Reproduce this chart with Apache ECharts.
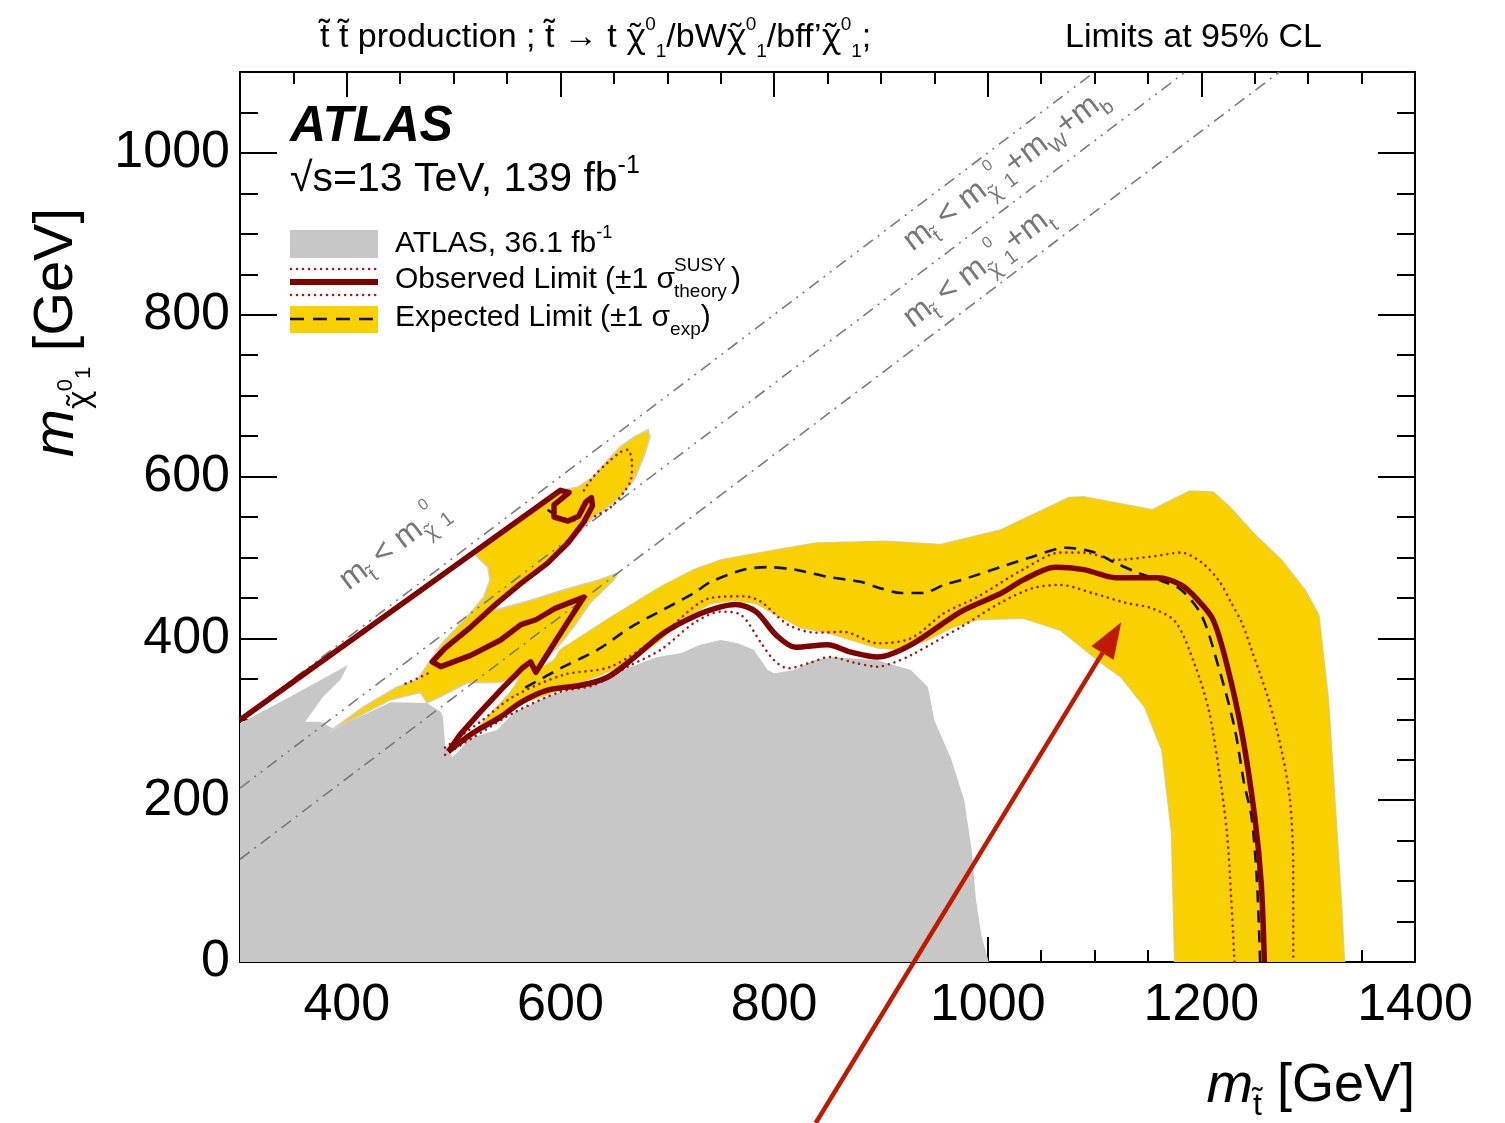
<!DOCTYPE html>
<html><head><meta charset="utf-8">
<script src="https://cdn.jsdelivr.net/npm/echarts@6/dist/echarts.min.js"></script>
<style>html,body{margin:0;padding:0;background:#fff;}#c{width:1505px;height:1123px;}</style>
</head><body><div id="c"></div>
<script>
// ---------------- data (GeV) ----------------
const xMajorTicks = [400, 600, 800, 1000, 1200, 1400];
const xMinorTicks = [350, 450, 500, 550, 650, 700, 750, 850, 900, 950, 1050, 1100, 1150, 1250, 1300, 1350];
const yMajorTicks = [0, 200, 400, 600, 800, 1000];
const yMinorTicks = [50, 100, 150, 250, 300, 350, 450, 500, 550, 650, 700, 750, 850, 900, 950, 1050];

// ATLAS 36.1 fb-1 excluded region (grey)
const excl36fb = [[300,0],[300,295],[350,330],[401,367],[394,349],[378,328],[361,297],[375,297],[387,289],[410,302],[441,321],[475,320],[488,309],[490,303],[492,268],[499,253],[516,277],[541,287],[556,308],[588,328],[628,345],[666,365],[691,377],[713,382],[731,392],[750,398],[766,394],[781,386],[794,361],[800,357],[819,361],[837,373],[856,377],[897,373],[928,361],[944,340],[950,299],[966,250],[978,200],[985,138],[989,77],[994,33],[1001,0]];

// expected +-1 sigma band (yellow) : main band and upper-left lobe
const expBandMain = [[502,265],[525,293],[553,333],[572,371],[579,380],[581,363],[594,373],[600,386],[647,426],[694,464],[725,485],[750,497],[788,506],[839,518],[904,520],[956,516],[1012,534],[1076,574],[1090,575],[1154,559],[1189,582],[1211,581],[1227,562],[1249,530],[1275,497],[1297,460],[1310,429],[1319,324],[1325,200],[1331,77],[1334,0],[1175,0],[1172,160],[1163,262],[1147,315],[1125,352],[1106,370],[1068,410],[1033,425],[990,423],[966,413],[944,398],[919,386],[897,388],[872,398],[850,407],[825,413],[802,429],[783,443],[762,447],[741,443],[713,423],[694,398],[666,371],[638,355],[600,336],[563,319],[534,297],[511,272]];
const expBandUpper = [[518,506],[563,546],[600,583],[616,587],[631,600],[644,620],[656,637],[669,649],[682,658],[684,649],[678,624],[669,596],[656,575],[644,562],[631,550],[622,538],[607,513],[588,493],[563,468],[547,451],[539,435],[572,447],[603,460],[635,472],[654,481],[650,472],[628,444],[614,417],[603,398],[591,380],[581,363],[575,363],[558,349],[539,345],[525,345],[513,345],[488,328],[475,320],[469,333],[441,324],[410,303],[383,284],[415,315],[447,340],[466,349],[488,392],[518,435],[528,451],[534,472],[532,488]];

// expected limit (dashed)
const expLine = [[567,339],[603,365],[635,386],[666,414],[697,436],[725,456],[741,470],[772,485],[794,488],[819,485],[850,476],[881,470],[897,463],[919,456],[939,456],[959,466],[975,472],[1012,488],[1042,501],[1073,512],[1098,507],[1120,493],[1141,481],[1163,471],[1181,460],[1200,429],[1216,365],[1231,290],[1240,221],[1247,179],[1252,101],[1255,0]];
const expLinePiece = [[588,559],[600,549],[614,546]];

// observed limit (solid)
const obsLeft = [[300,299],[600,583],[608,580],[594,565],[594,550],[607,545],[617,551],[624,569],[629,574],[630,564],[622,544],[607,518],[588,493],[563,468],[541,444],[516,414],[492,388],[480,371],[488,365],[516,379],[544,398],[563,417],[577,423],[595,437],[622,451],[611,429],[598,402],[586,377],[577,358],[572,371],[564,363],[544,336],[525,309],[506,281],[495,260]];
const obsMain = [[495,260],[518,283],[544,303],[563,321],[588,336],[619,342],[644,352],[666,373],[697,407],[728,429],[750,439],[764,442],[783,433],[802,404],[820,389],[850,392],[872,383],[897,377],[928,392],[975,433],[1013,456],[1033,472],[1063,488],[1090,485],[1120,475],[1159,475],[1181,466],[1197,447],[1211,423],[1224,367],[1238,283],[1250,179],[1256,98],[1259,0]];
// observed +-1 sigma theory (dotted)
const obsUp = [[492,265],[525,297],[556,328],[603,355],[647,365],[694,404],[741,450],[772,452],[788,445],[813,417],[839,407],[865,408],[897,394],[928,400],[959,431],[990,451],[1033,485],[1068,506],[1090,506],[1120,497],[1153,501],[1181,506],[1200,494],[1216,472],[1228,444],[1238,419],[1247,386],[1263,324],[1275,262],[1283,200],[1286,117],[1286,0]];
const obsDown = [[492,256],[525,283],[556,308],[600,334],[631,342],[663,365],[694,386],[725,419],[750,433],[769,429],[788,394],[800,373],[813,363],[834,370],[852,377],[875,370],[897,365],[912,370],[928,379],[959,402],[975,414],[1012,444],[1042,462],[1068,466],[1098,456],[1129,444],[1154,437],[1176,420],[1194,367],[1207,311],[1216,241],[1224,159],[1228,77],[1231,0]];
const obsUpLobe = [[622,583],[631,600],[644,617],[656,630],[663,633],[667,617],[666,596],[659,580],[647,562],[631,550]];
const obsDotPiece = [[455,344],[467,351],[478,358]];

// kinematic boundaries
const kinChi = [[300,300],[1100,1100]];
const kinWb = [[300,215],[1185,1100]];
const kinTop = [[300,127],[1273,1100]];

// annotation anchors (GeV)
const lblChiPos = [444, 515];
const lblWbPos = [1017, 979];
const lblTopPos = [991, 858];
const arrowTip = [1125, 420];
const arrowTail = [839, -199];

// ---------------- chart ----------------
const FF = "'Liberation Sans', Arial, Helvetica, sans-serif";
const GF = "'Noto Sans', 'DejaVu Sans', sans-serif";
const YEL = '#f9d000', GRY = '#c7c7c7', OBS = '#800000', DOT = '#9b1c1c';
const chart = echarts.init(document.getElementById('c'), null, {renderer: 'canvas'});

function polySeries(pts, fill, stroke, z) {
  return {
    type: 'custom', xAxisIndex: 0, yAxisIndex: 0, silent: true, z: z, clip: true,
    data: [[pts[0][0], pts[0][1]]],
    renderItem: function (params, api) {
      return {type: 'polygon', shape: {points: pts.map(p => api.coord(p))},
        style: {fill: fill, stroke: stroke, lineWidth: stroke ? 1.5 : 0}};
    }
  };
}
function lineSeries(pts, color, width, dash, smooth, z, cap) {
  return {type: 'line', xAxisIndex: 0, yAxisIndex: 0, data: pts, showSymbol: false, symbol: 'none',
    smooth: smooth, z: z, silent: true, animation: false,
    lineStyle: {color: color, width: width, type: dash, cap: cap || 'butt', join: 'round'}};
}
const dotted = [0.01, 6];
const dashDot = [12, 6, 2, 6];

function axisX(pos, ticks, len, showLine, showLabel) {
  return {type: 'value', position: pos, min: 300, max: 1400,
    axisLine: {show: showLine, onZero: false, lineStyle: {color: '#000', width: 2}},
    axisTick: {show: true, inside: true, length: len, customValues: ticks, lineStyle: {color: '#000', width: 2}},
    axisLabel: {show: showLabel, customValues: ticks, fontSize: 52, color: '#000', fontFamily: FF, margin: 18,
      formatter: v => String(v)},
    splitLine: {show: false}};
}
function axisY(pos, ticks, len, showLine, showLabel) {
  return {type: 'value', position: pos, min: 0, max: 1100,
    axisLine: {show: showLine, onZero: false, lineStyle: {color: '#000', width: 2}},
    axisTick: {show: true, inside: true, length: len, customValues: ticks, lineStyle: {color: '#000', width: 2}},
    axisLabel: {show: showLabel, customValues: ticks, fontSize: 52, color: '#000', fontFamily: FF, margin: 10,
      formatter: v => String(v)},
    splitLine: {show: false}};
}

chart.setOption({
  animation: false,
  backgroundColor: '#fff',
  grid: {left: 240, right: 90, top: 72, bottom: 161, containLabel: false},
  xAxis: [axisX('bottom', xMajorTicks, 25, true, true), axisX('bottom', xMinorTicks, 12, false, false),
          axisX('top', xMajorTicks, 25, true, false), axisX('top', xMinorTicks, 12, false, false)],
  yAxis: [axisY('left', yMajorTicks, 37, true, true), axisY('left', yMinorTicks, 18, false, false),
          axisY('right', yMajorTicks, 37, true, false), axisY('right', yMinorTicks, 18, false, false)],
  series: [
    polySeries(excl36fb, GRY, null, 1),
    polySeries(expBandMain, YEL, '#cfcfcf', 2),
    polySeries(expBandUpper, YEL, '#cfcfcf', 2),
    polySeries(expBandMain, YEL, null, 3),
    lineSeries(kinChi, '#7a7a7a', 1.6, [12, 6, 2, 6, 2, 6], false, 4),
    lineSeries(kinWb, '#7a7a7a', 1.6, [12, 6, 2, 6, 2, 6], false, 4),
    lineSeries(kinTop, '#7a7a7a', 1.6, dashDot, false, 4),
    lineSeries(obsUp, DOT, 2.6, dotted, 0.3, 5, 'round'),
    lineSeries(obsDown, DOT, 2.6, dotted, 0.3, 5, 'round'),
    lineSeries(obsUpLobe, DOT, 2.6, dotted, 0.3, 5, 'round'),
    lineSeries(obsDotPiece, DOT, 2.6, dotted, 0.3, 5, 'round'),
    lineSeries(expLine, '#111', 2.6, [12, 8], 0.3, 6),
    lineSeries(expLinePiece, '#111', 2.4, [8, 6], 0.3, 6),
    lineSeries(obsLeft, OBS, 5.5, 'solid', false, 7),
    lineSeries(obsMain, OBS, 5.5, 'solid', 0.3, 7)
  ]
});

// ---------------- texts / annotations ----------------
const toPx = p => chart.convertToPixel({xAxisIndex: 0, yAxisIndex: 0}, p);
const ang = Math.atan((0.8091) / (1.0682));

function txt(x, y, text, size, opts) {
  opts = opts || {};
  return {type: 'text', x: x, y: y, rotation: opts.rotation || 0, z: 100,
    style: {text: text, fill: opts.fill || '#000', fontSize: size, fontFamily: opts.family || FF,
      fontStyle: opts.fontStyle || 'normal', fontWeight: opts.fontWeight || 'normal',
      align: opts.align || 'left', textAlign: opts.align || 'left',
      verticalAlign: 'middle', textVerticalAlign: 'middle', lineHeight: opts.lineHeight || Math.round(size * 1.35),
      rich: opts.rich || {}}};
}

const chiStr = '\u03c7\u0303';
const tStr = 't\u0303';
const headRich = {
  c: {fontSize: 32, fontFamily: GF},
  u: {fontSize: 19, fontFamily: FF, verticalAlign: 'top', lineHeight: 20},
  d: {fontSize: 19, fontFamily: FF, verticalAlign: 'bottom', lineHeight: 20}
};
const diagRich = {
  m: {fontSize: 32, fontFamily: FF, fill: '#777'},
  s: {fontSize: 20, fontFamily: FF, fill: '#777', verticalAlign: 'bottom', lineHeight: 22},
  g: {fontSize: 20, fontFamily: GF, fill: '#777', verticalAlign: 'bottom', lineHeight: 24},
  u: {fontSize: 16, fontFamily: FF, fill: '#777', verticalAlign: 'top', lineHeight: 30}
};

const pChi = toPx(lblChiPos), pWb = toPx(lblWbPos), pTop = toPx(lblTopPos);
const tip = toPx(arrowTip), tail = toPx(arrowTail);
const dx = tip[0] - tail[0], dy = tip[1] - tail[1], L = Math.hypot(dx, dy);
const ux = dx / L, uy = dy / L, headLen = 36, headW = 13;
const base = [tip[0] - ux * headLen, tip[1] - uy * headLen];
const chiH = '{c|' + chiStr + '}{u|0}{d|1}';

const graphics = [
  // header
  txt(320, 38, tStr + ' ' + tStr + ' production ; ' + tStr + ' \u2192 t ' + chiH + '/bW' + chiH + '/bff\u2019' + chiH + ';', 34, {rich: headRich, lineHeight: 46}),
  txt(1065, 38, 'Limits at 95% CL', 34),
  // ATLAS label
  txt(290, 127, 'ATLAS', 50, {fontStyle: 'italic', fontWeight: 'bold'}),
  txt(290, 180, '\u221As=13 TeV, 139 fb{u|-1}', 41, {lineHeight: 52, rich: {u: {fontSize: 25, fontFamily: FF, verticalAlign: 'top', lineHeight: 26}}}),
  // legend symbols
  {type: 'rect', z: 100, shape: {x: 290, y: 230, width: 88, height: 28}, style: {fill: GRY}},
  {type: 'line', z: 100, shape: {x1: 291, y1: 269, x2: 378, y2: 269}, style: {stroke: DOT, lineWidth: 2.6, lineDash: dotted, lineCap: 'round'}},
  {type: 'line', z: 100, shape: {x1: 290, y1: 282, x2: 378, y2: 282}, style: {stroke: OBS, lineWidth: 6}},
  {type: 'line', z: 100, shape: {x1: 291, y1: 295, x2: 378, y2: 295}, style: {stroke: DOT, lineWidth: 2.6, lineDash: dotted, lineCap: 'round'}},
  {type: 'rect', z: 100, shape: {x: 290, y: 306, width: 88, height: 27}, style: {fill: YEL}},
  {type: 'line', z: 101, shape: {x1: 290, y1: 319, x2: 378, y2: 319}, style: {stroke: '#111', lineWidth: 2.5, lineDash: [14, 9]}},
  // legend texts
  txt(395, 244, 'ATLAS, 36.1 fb{u|-1}', 30, {lineHeight: 40, rich: {u: {fontSize: 18, fontFamily: FF, verticalAlign: 'top', lineHeight: 18}}}),
  txt(395, 280, 'Observed Limit (\u00b11 \u03c3', 30),
  txt(674, 266, 'SUSY', 19),
  txt(674, 292, 'theory', 19),
  txt(731, 280, ')', 30),
  txt(395, 318, 'Expected Limit (\u00b11 \u03c3{d|exp})', 30, {lineHeight: 42, rich: {d: {fontSize: 19, fontFamily: FF, verticalAlign: 'bottom', lineHeight: 20}}}),
  // axis titles
  txt(1415, 1086, '{m|m}{s|' + tStr + '} [GeV]', 54, {align: 'right', lineHeight: 72,
    rich: {m: {fontSize: 56, fontStyle: 'italic', fontFamily: FF}, s: {fontSize: 32, fontFamily: FF, verticalAlign: 'bottom', lineHeight: 30}}}),
  txt(57, 208, '{m|m}{s|' + chiStr + '}{u|0}{d|1} [GeV]', 56, {align: 'right', rotation: Math.PI / 2, lineHeight: 76,
    rich: {m: {fontSize: 58, fontStyle: 'italic', fontFamily: FF}, s: {fontSize: 30, fontFamily: GF, verticalAlign: 'bottom', lineHeight: 34},
      u: {fontSize: 22, fontFamily: FF, verticalAlign: 'bottom', padding: [0, 0, 18, 0]}, d: {fontSize: 22, fontFamily: FF, verticalAlign: 'bottom', lineHeight: 22}}}),
  // kinematic labels
  txt(pChi[0], pChi[1], '{m|m}{s|' + tStr + '}{m| < m}{g|' + chiStr + '}{u|0}{s|1}', 32, {align: 'center', rotation: ang, lineHeight: 44, rich: diagRich, fill: '#777'}),
  txt(pWb[0], pWb[1], '{m|m}{s|' + tStr + '}{m| < m}{g|' + chiStr + '}{u|0}{s|1}{m|+m}{s|W}{m|+m}{s|b}', 32, {align: 'center', rotation: ang, lineHeight: 44, rich: diagRich, fill: '#777'}),
  txt(pTop[0], pTop[1], '{m|m}{s|' + tStr + '}{m| < m}{g|' + chiStr + '}{u|0}{s|1}{m|+m}{s|t}', 32, {align: 'center', rotation: ang, lineHeight: 44, rich: diagRich, fill: '#777'}),
  // red arrow annotation
  {type: 'line', z: 120, shape: {x1: tail[0], y1: tail[1], x2: base[0], y2: base[1]}, style: {stroke: '#bf1a00', lineWidth: 4.5}},
  {type: 'polygon', z: 120, shape: {points: [tip, [base[0] - uy * headW, base[1] + ux * headW], [base[0] + uy * headW, base[1] - ux * headW]]}, style: {fill: '#bf1a00'}}
];
chart.setOption({graphic: {elements: graphics}});
</script>
</body></html>
